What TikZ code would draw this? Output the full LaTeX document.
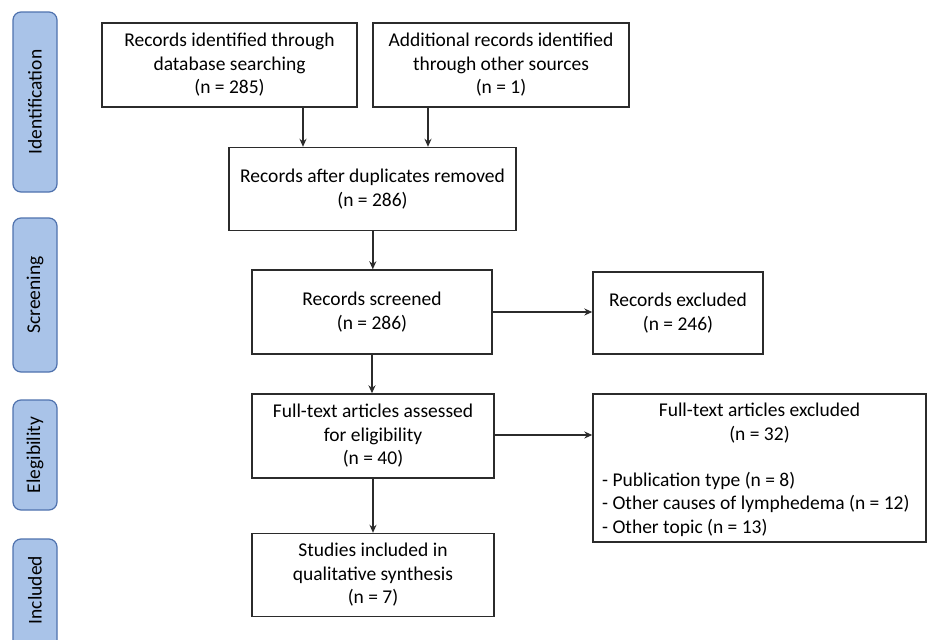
\documentclass[tikz,border=0pt]{standalone}
\usepackage{fontspec}
\setmainfont{Carlito}
\usetikzlibrary{arrows.meta,calc}
\definecolor{pillfill}{HTML}{A9C3E8}
\definecolor{pillline}{HTML}{4F72AE}
\definecolor{boxline}{HTML}{2B2B2B}
\begin{document}
\begin{tikzpicture}[x=1pt,y=-1pt,
  every node/.style={font=\fontsize{19.5}{23.5}\selectfont, text=black},
  flowbox/.style={draw=boxline, line width=1.4pt, rectangle, inner sep=0pt, align=center},
  pill/.style={draw=pillline, fill=pillfill, line width=1.2pt, rounded corners=8pt, rectangle, inner sep=0pt, minimum width=44pt},
  pilltext/.style={rotate=90},
  arr/.style={draw=boxline, line width=1.4pt, -{Stealth[length=8pt,width=7pt]}}
]
\useasboundingbox (0,0) rectangle (927,640);
\clip (0,0) rectangle (927,640);
\fill[white] (0,0) rectangle (927,640);

% phase pills
\node[pill, minimum height=180pt] (pid) at (35,102) {};
\node[pilltext] (tid) at (pid.center) {Identification};
\node[pill, minimum height=154pt] (psc) at (35,295) {};
\node[pilltext] (tsc) at (psc.center) {Screening};
\node[pill, minimum height=110pt] (pel) at (35,455) {};
\node[pilltext] (tel) at (pel.center) {Elegibility};
\node[pill, minimum height=130pt] (pin) at (35,604) {};
\node[pilltext] (tin) at (35,590) {Included};

% boxes
\node[flowbox, minimum width=255pt, minimum height=84pt] (b1) at (229.5,65) {Records identified through\\database searching\\(n = 285)};
\node[flowbox, minimum width=256pt, minimum height=84pt] (b2) at (501,65) {Additional records identified\\through other sources\\(n = 1)};
\node[flowbox, minimum width=287pt, minimum height=83pt] (b3) at (372.5,189) {Records after duplicates removed\\(n = 286)};
\node[flowbox, minimum width=240pt, minimum height=84pt] (b4) at (372,312) {Records screened\\(n = 286)};
\node[flowbox, minimum width=170pt, minimum height=82pt] (rx) at (678,313) {Records excluded\\(n = 246)};
\node[flowbox, minimum width=242pt, minimum height=84pt] (b5) at (373,436) {Full-text articles assessed\\for eligibility\\(n = 40)};
\node[flowbox, minimum width=333pt, minimum height=148pt] (fx) at (759.5,468) {};
\node[anchor=base, inner sep=0pt, align=center] (fxt) at (759.5,440) {Full-text articles excluded\\(n = 32)};
\node[anchor=base west, inner sep=0pt, align=left] (fxl) at (602,533) {- Publication type (n = 8)\\- Other causes of lymphedema (n = 12)\\- Other topic (n = 13)};
\node[flowbox, minimum width=242pt, minimum height=83pt] (b6) at (373,575) {Studies included in\\qualitative synthesis\\(n = 7)};

% connectors
\draw[arr] ([xshift=73.5pt]b1.south) -- ([xshift=73.5pt]b1.south |- b3.north);
\draw[arr] ([xshift=-73pt]b2.south) -- ([xshift=-73pt]b2.south |- b3.north);
\draw[arr] ([xshift=0.3pt]b3.south) -- ([xshift=0.3pt]b3.south |- b4.north);
\draw[arr] (b4.east) -- (b4.east -| rx.west);
\draw[arr] (b4.south) -- (b4.south |- b5.north);
\draw[arr] ([yshift=1pt]b5.east) -- ([yshift=1pt]b5.east -| fx.west);
\draw[arr] (b5.south) -- (b5.south |- b6.north);
\end{tikzpicture}
\end{document}
